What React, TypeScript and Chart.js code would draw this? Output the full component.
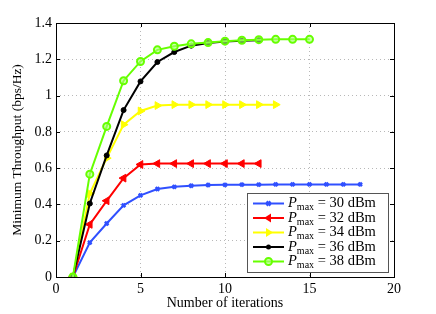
import React, { useEffect, useRef } from "react";
import { Chart, registerables } from "chart.js";

Chart.register(...registerables);

const iterations = [1, 2, 3, 4, 5, 6, 7, 8, 9, 10, 11, 12, 13, 14, 15, 16, 17, 18];
const p30 = [0, 0.19, 0.295, 0.395, 0.45, 0.485, 0.497, 0.503, 0.507, 0.508, 0.509, 0.509, 0.51, 0.51, 0.51, 0.51, 0.51, 0.51];
const p32 = [0, 0.29, 0.42, 0.545, 0.62, 0.625, 0.625, 0.625, 0.625, 0.625, 0.625, 0.625];
const p34 = [0, 0.46, 0.655, 0.84, 0.915, 0.945, 0.95, 0.95, 0.95, 0.95, 0.95, 0.95, 0.95];
const p36 = [0, 0.405, 0.67, 0.92, 1.078, 1.185, 1.24, 1.275, 1.29, 1.298, 1.302, 1.305];
const p38 = [0, 0.567, 0.83, 1.082, 1.188, 1.252, 1.272, 1.285, 1.292, 1.3, 1.305, 1.308, 1.31, 1.31, 1.31];
const powerLabels = ["30", "32", "34", "36", "38"];
const xTicks = [0, 5, 10, 15, 20];
const yTicks = [0, 0.2, 0.4, 0.6, 0.8, 1, 1.2, 1.4];

const FONT = "'Liberation Serif', 'DejaVu Serif', serif";
const colors = ["#3050ff", "#ff0000", "#ffff00", "#000000", "#66ff00"];
const series = [p30, p32, p34, p36, p38];
const styles = [
  { pointStyle: "crossRot", radius: 2.5, rotation: 0, bg: colors[0], bw: 2.5 },
  { pointStyle: "triangle", radius: 4.5, rotation: -90, bg: colors[1], bw: 1 },
  { pointStyle: "triangle", radius: 4.5, rotation: 90, bg: colors[2], bw: 1 },
  { pointStyle: "circle", radius: 2.5, rotation: 0, bg: colors[3], bw: 1 },
  { pointStyle: "circle", radius: 3.5, rotation: 0, bg: "rgba(170,255,120,0.6)", bw: 2 },
];

function drawMarker(ctx: CanvasRenderingContext2D, i: number, x: number, y: number) {
  const c = colors[i];
  ctx.save();
  ctx.fillStyle = c;
  ctx.strokeStyle = c;
  ctx.lineWidth = 1;
  if (i === 0) {
    ctx.lineWidth = 2.5;
    ctx.beginPath();
    ctx.moveTo(x - 2, y - 2); ctx.lineTo(x + 2, y + 2);
    ctx.moveTo(x - 2, y + 2); ctx.lineTo(x + 2, y - 2);
    ctx.stroke();
  } else if (i === 1) {
    ctx.beginPath();
    ctx.moveTo(x - 4.5, y); ctx.lineTo(x + 2.5, y - 4.5); ctx.lineTo(x + 2.5, y + 4.5);
    ctx.closePath(); ctx.fill();
  } else if (i === 2) {
    ctx.beginPath();
    ctx.moveTo(x + 4.5, y); ctx.lineTo(x - 2.5, y - 4.5); ctx.lineTo(x - 2.5, y + 4.5);
    ctx.closePath(); ctx.fill();
  } else if (i === 3) {
    ctx.beginPath(); ctx.arc(x, y, 2.5, 0, Math.PI * 2); ctx.fill();
  } else {
    ctx.fillStyle = styles[4].bg;
    ctx.lineWidth = 2;
    ctx.beginPath(); ctx.arc(x, y, 3.5, 0, Math.PI * 2); ctx.fill(); ctx.stroke();
  }
  ctx.restore();
}

const framePlugin = {
  id: "framePlugin",
  afterDraw(chart: any) {
    const { ctx, chartArea } = chart;
    const { left, right, top, bottom } = chartArea;
    const xs = chart.scales.x;
    const ys = chart.scales.y;
    ctx.save();
    ctx.strokeStyle = "#000";
    ctx.lineWidth = 1;
    ctx.strokeRect(Math.round(left) + 0.5, Math.round(top) + 0.5, Math.round(right - left), Math.round(bottom - top));
    ctx.beginPath();
    xTicks.forEach((t) => {
      const px = Math.round(xs.getPixelForValue(t)) + 0.5;
      ctx.moveTo(px, bottom); ctx.lineTo(px, bottom - 4);
      ctx.moveTo(px, top); ctx.lineTo(px, top + 4);
    });
    yTicks.forEach((t) => {
      const py = Math.round(ys.getPixelForValue(t)) + 0.5;
      ctx.moveTo(left, py); ctx.lineTo(left + 4, py);
      ctx.moveTo(right, py); ctx.lineTo(right - 4, py);
    });
    ctx.stroke();

    // legend
    const bx = 247.5, by = 193.5, bw = 141, bh = 79;
    ctx.fillStyle = "#fff";
    ctx.fillRect(bx, by, bw, bh);
    ctx.strokeStyle = "#555";
    ctx.strokeRect(bx, by, bw, bh);
    const rows = [203.5, 218, 232.5, 247, 261.5];
    rows.forEach((ry, i) => {
      ctx.strokeStyle = colors[i];
      ctx.lineWidth = 2;
      ctx.beginPath(); ctx.moveTo(253, ry); ctx.lineTo(284, ry); ctx.stroke();
      drawMarker(ctx, i, 268.5, ry);
      ctx.fillStyle = "#000";
      ctx.textBaseline = "middle";
      ctx.textAlign = "left";
      let tx = 288;
      ctx.font = "italic 14.5px " + FONT;
      ctx.fillText("P", tx, ry);
      tx += ctx.measureText("P").width;
      ctx.font = "10px " + FONT;
      ctx.fillText("max", tx, ry + 4);
      tx += ctx.measureText("max").width;
      ctx.font = "14.5px " + FONT;
      ctx.fillText(" = " + powerLabels[i] + " dBm", tx, ry);
    });
    ctx.restore();
  },
};

export default function App() {
  const ref = useRef<HTMLCanvasElement | null>(null);
  useEffect(() => {
    if (!ref.current) return;
    const datasets = series.map((vals, i) => ({
      label: powerLabels[i],
      data: vals.map((v, k) => ({ x: iterations[k], y: v })),
      borderColor: colors[i],
      backgroundColor: styles[i].bg,
      pointBackgroundColor: styles[i].bg,
      pointBorderColor: colors[i],
      pointBorderWidth: styles[i].bw,
      pointStyle: styles[i].pointStyle,
      pointRadius: styles[i].radius,
      pointRotation: styles[i].rotation,
      borderWidth: 2,
      tension: 0,
      order: 5 - i,
    }));
    const chart = new Chart(ref.current, {
      type: "line",
      data: { datasets } as any,
      options: {
        animation: false,
        responsive: false,
        devicePixelRatio: 1,
        layout: { padding: { top: 23, right: 42, left: 0, bottom: 0 } },
        plugins: { legend: { display: false }, tooltip: { enabled: false } },
        scales: {
          x: {
            type: "linear",
            min: 0,
            max: 20,
            afterBuildTicks: (s: any) => { s.ticks = xTicks.map((v) => ({ value: v })); },
            afterFit: (s: any) => { s.height = 37; },
            ticks: { color: "#000", font: { family: FONT, size: 14 }, padding: 4, maxRotation: 0 },
            grid: { color: "#b8b8b8", drawTicks: false, lineWidth: 1 },
            border: { display: false, dash: [1, 3] },
            title: { display: true, text: "Number of iterations", color: "#000", font: { family: FONT, size: 14 }, padding: { top: 0, bottom: 2 } },
          },
          y: {
            type: "linear",
            min: 0,
            max: 1.4,
            afterBuildTicks: (s: any) => { s.ticks = yTicks.map((v) => ({ value: v })); },
            afterFit: (s: any) => { s.width = 56; },
            ticks: { color: "#000", font: { family: FONT, size: 14 }, padding: 4, callback: (v: any) => String(Math.round(v * 10) / 10) },
            grid: { color: "#b8b8b8", drawTicks: false, lineWidth: 1 },
            border: { display: false, dash: [1, 3] },
            title: { display: true, text: "Minimum Throughput (bps/Hz)", color: "#000", font: { family: FONT, size: 13.5 }, padding: { top: 9, bottom: 0 } },
          },
        },
      },
      plugins: [framePlugin],
    } as any);
    return () => chart.destroy();
  }, []);
  return (
    <div style={{ position: "fixed", left: 0, top: 0, width: 436, height: 314, background: "#fff" }}>
      <canvas ref={ref} width={436} height={314} style={{ width: 436, height: 314 }} />
    </div>
  );
}
